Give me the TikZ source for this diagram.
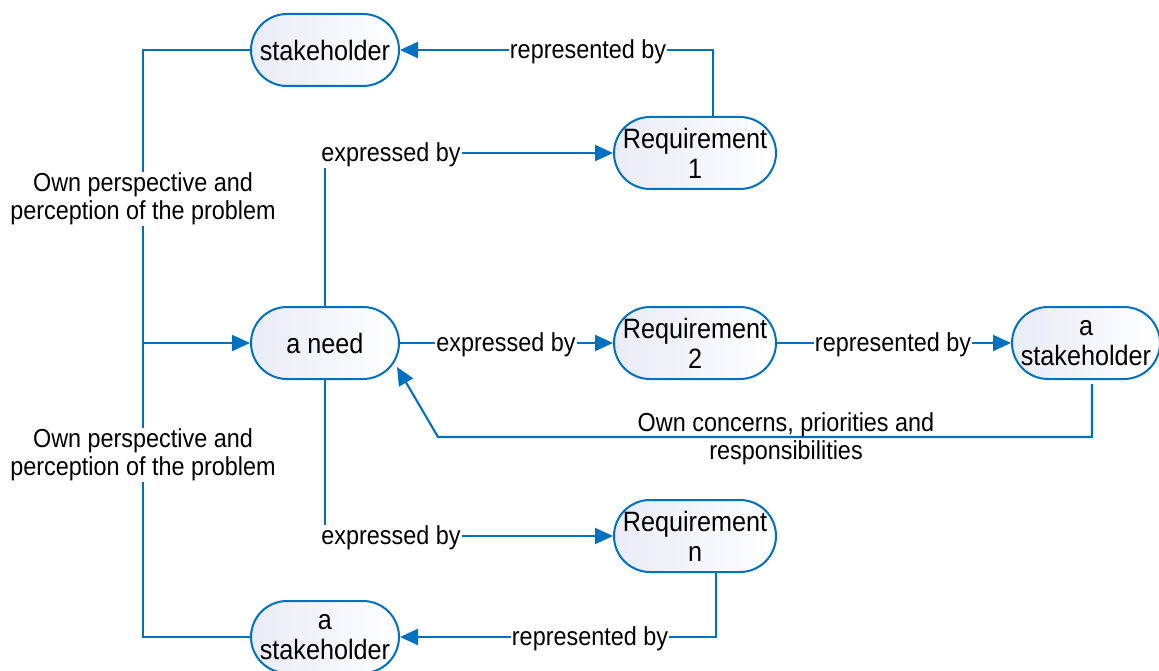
\documentclass[tikz,border=0pt]{standalone}
\usepackage{fontspec}
\setmainfont{Liberation Sans}[FakeStretch=0.9]
\usetikzlibrary{arrows.meta}
\definecolor{lblue}{RGB}{0,112,192}
\definecolor{nfill}{RGB}{233,235,246}
\begin{document}
\begin{tikzpicture}[x=1pt,y=-1pt,
  box/.style={draw=lblue, line width=2pt, rounded corners=36pt,
    minimum width=148pt, minimum height=72pt, left color=nfill, right color=white,
    align=center, inner sep=2pt, font=\fontsize{28}{30}\selectfont},
  wide/.style={box, minimum width=162pt},
  conn/.style={draw=lblue, line width=2.1pt},
  arr/.style={conn, -{Triangle[length=18pt,width=16pt]}},
  lbl/.style={fill=white, inner sep=1pt, align=center, font=\fontsize{26}{28}\selectfont},
  lblclear/.style={lbl, fill=none}]
\useasboundingbox (0,0) rectangle (1159,671);
\fill[white] (0,0) rectangle (1159,671);

% nodes
\node[box]  (s1)   at (325,50)   {stakeholder};
\node[wide] (r1)   at (695,153)  {Requirement\\1};
\node[box]  (need) at (325,343)  {a need};
\node[wide] (r2)   at (695,343)  {Requirement\\2};
\node[box]  (s2)   at (1086,343) {a\\stakeholder};
\node[wide] (rn)   at (695,536)  {Requirement\\n};
\node[box]  (s3)   at (325,637)  {a\\stakeholder};

% helper coordinates
\coordinate (bt) at (143,50);
\coordinate (bm) at (143,343);
\coordinate (bb) at (143,637);
\coordinate (ck) at (438,437);

% connectors
\draw[conn] (s1.west) -- (bt) -- (bb) -- (s3.west);
\draw[arr] (bm) -- (need.west);
\draw[arr] ([xshift=18pt]r1.north) |- (s1.east);
\draw[arr] (need.north) |- (r1.west);
\draw[arr] (need.east) -- (r2.west);
\draw[arr] (r2.east) -- (s2.west);
\draw[arr] ([xshift=6pt,yshift=-4pt]s2.south) |- (ck) -- ([xshift=-3pt,yshift=-24pt]need.east);
\draw[arr] (need.south) |- (rn.west);
\draw[arr] ([xshift=21pt]rn.south) |- (s3.east);

% labels
\node[lbl] (l1) at (588,52)  {represented by};
\node[lbl] (l2) at (391,155) {expressed by};
\node[lbl] (l3) at (143,199) {Own perspective and\\perception of the problem};
\node[lbl] (l4) at (143,455) {Own perspective and\\perception of the problem};
\node[lbl] (l5) at (506,345) {expressed by};
\node[lbl] (l6) at (893,345) {represented by};
\node[lblclear] (l7) at (786,439) {Own concerns, priorities and\\responsibilities};
\node[lbl] (l8) at (391,538) {expressed by};
\node[lbl] (l9) at (590,639) {represented by};
\end{tikzpicture}
\end{document}
